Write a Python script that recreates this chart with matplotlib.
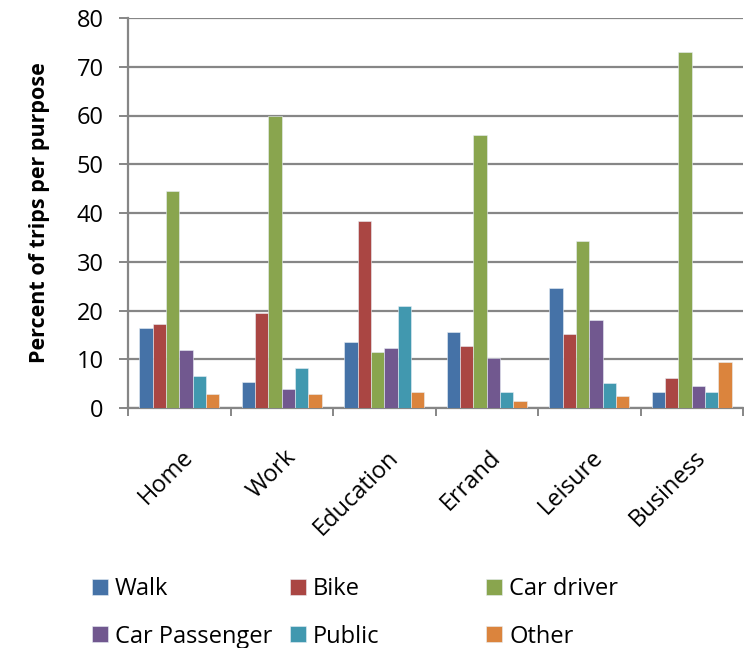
import matplotlib
matplotlib.use("Agg")
import matplotlib.pyplot as plt
import numpy as np

categories = ["Home", "Work", "Education", "Errand", "Leisure", "Business"]
series_names = ["Walk", "Bike", "Car driver", "Car Passenger", "Public", "Other"]
walk = [16.4, 5.3, 13.6, 15.6, 24.6, 3.2]
bike = [17.2, 19.4, 38.3, 12.7, 15.1, 6.1]
car_driver = [44.6, 59.8, 11.4, 56.1, 34.2, 73.0]
car_passenger = [11.9, 4.0, 12.3, 10.2, 18.1, 4.5]
public = [6.5, 8.2, 20.9, 3.2, 5.2, 3.2]
other = [2.8, 2.8, 3.2, 1.5, 2.4, 9.4]
yticks = [0, 10, 20, 30, 40, 50, 60, 70, 80]

series = [walk, bike, car_driver, car_passenger, public, other]
colors = ["#4572A7", "#AA4643", "#89A54E", "#71588F", "#4198AF", "#DB843D"]

FONT = ["Open Sans", "DejaVu Sans"]
plt.rcParams['font.family'] = FONT

fig = plt.figure(figsize=(7.44, 6.48), dpi=100)
ax = fig.add_axes([128/744, 1-408/648, (743-128)/744, (408-18)/648])

x = np.arange(len(categories))
bw = 0.13
handles = []
for i, (vals, c) in enumerate(zip(series, colors)):
    off = (i - 2.5) * bw
    h = ax.bar(x + off, vals, width=bw, color=c, edgecolor="#e8eef5", linewidth=0.4, zorder=3,
               label=series_names[i])
    handles.append(h)

ax.set_xlim(-0.5, len(categories) - 0.5)
ax.set_ylim(0, 80)
ax.set_yticks(yticks)
ax.set_yticklabels([str(t) for t in yticks], fontsize=17)
ax.grid(axis="y", color="#868686", linewidth=1.6, zorder=0)
ax.set_axisbelow(True)

for s in ["top", "right"]:
    ax.spines[s].set_visible(False)
for s in ["left", "bottom"]:
    ax.spines[s].set_color("#868686")
    ax.spines[s].set_linewidth(1.6)

ax.tick_params(axis="y", direction="out", length=6.5, width=1.4, color="#868686", pad=11)
# category boundary ticks
ax.set_xticks(np.arange(-0.5, len(categories) + 0.5, 1.0))
ax.set_xticklabels([])
ax.tick_params(axis="x", which="major", direction="out", length=6, width=1.4, color="#868686")
ax.set_xticks(x + 0.02, minor=True)
ax.set_xticklabels(categories, minor=True, rotation=45, ha="right", rotation_mode="anchor",
                   fontsize=17)
ax.tick_params(axis="x", which="minor", length=0, pad=27)

ax.set_ylabel("Percent of trips per purpose", fontsize=15.5, fontweight="bold", labelpad=19)

col_x = [92, 290, 486]
for j in range(3):
    idx = [j, j + 3]
    leg = fig.legend([handles[i] for i in idx], [series_names[i] for i in idx],
                     ncol=1, loc="upper left", bbox_to_anchor=(col_x[j]/744, 1-577/648),
                     frameon=False, fontsize=17, handlelength=0.68, handleheight=0.68,
                     handletextpad=0.3, labelspacing=1.0, borderaxespad=0, borderpad=0)

fig.savefig("out.png", dpi=100)
